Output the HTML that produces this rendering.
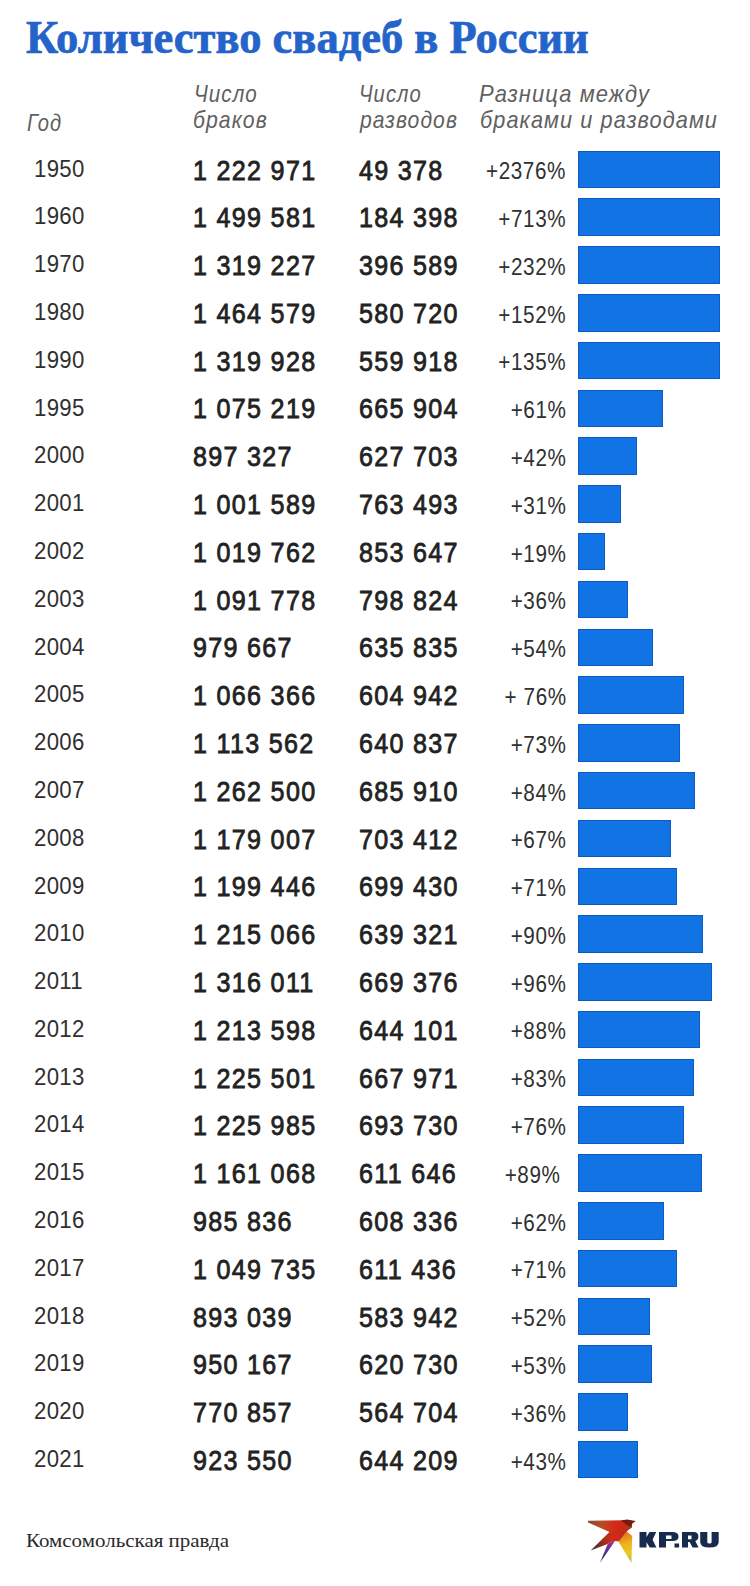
<!DOCTYPE html><html><head><meta charset="utf-8"><style>
*{margin:0;padding:0;box-sizing:border-box}
html,body{width:750px;height:1586px;background:#fff;overflow:hidden}
body{position:relative;font-family:"Liberation Sans",sans-serif;color:#222}
.a{position:absolute;white-space:nowrap;line-height:1;transform-origin:0 0}
.title{font-family:"Liberation Serif",serif;font-weight:bold;font-size:44px;color:#2464ca;-webkit-text-stroke:0.7px #2464ca}
.hd{font-style:italic;color:#606060;font-size:24px;letter-spacing:1.2px}
.yr{color:#303030;font-size:23px;letter-spacing:0.3px;transform:scaleX(0.965)}
.num{font-size:27px;-webkit-text-stroke:0.8px #222;letter-spacing:1.4px;transform:scaleX(0.93)}
.pct{color:#303030;font-size:23.5px;letter-spacing:0.7px;transform-origin:100% 0;transform:scaleX(0.88)}
.bar{position:absolute;background:#1173e4;height:37.5px;box-shadow:inset 0 0 0 1px rgba(8,60,150,.45)}
.foot{font-family:"Liberation Serif",serif;font-size:18px;color:#2a2a2a}
</style></head><body>
<div class="a title" style="left:26px;top:14.6px;transform:scale(1.012,1.045)">Количество свадеб в России</div>
<div class="a hd" style="left:27.46px;top:110.50px;transform:scaleX(0.8385)">Год</div>
<div class="a hd" style="left:194.19px;top:82.20px;transform:scaleX(0.8563)">Число</div>
<div class="a hd" style="left:193.42px;top:108.00px;transform:scaleX(0.8841)">браков</div>
<div class="a hd" style="left:359.42px;top:82.20px;transform:scaleX(0.8423)">Число</div>
<div class="a hd" style="left:360.18px;top:108.00px;transform:scaleX(0.8793)">разводов</div>
<div class="a hd" style="left:479.39px;top:82.40px;transform:scaleX(0.9140)">Разница между</div>
<div class="a hd" style="left:480.10px;top:108.20px;transform:scaleX(0.9042)">браками и разводами</div>
<div class="bar" style="left:578.2px;top:150.6px;width:141.4px"></div>
<div class="a yr" style="left:34.3px;top:157.6px">1950</div>
<div class="a num" style="left:193.2px;top:157.5px">1 222 971</div>
<div class="a num" style="left:358.8px;top:157.5px">49 378</div>
<div class="a pct" style="right:183.5px;top:160.2px">+2376%</div>
<div class="bar" style="left:578.2px;top:198.4px;width:141.4px"></div>
<div class="a yr" style="left:34.3px;top:205.4px">1960</div>
<div class="a num" style="left:193.2px;top:205.3px">1 499 581</div>
<div class="a num" style="left:358.8px;top:205.3px">184 398</div>
<div class="a pct" style="right:183.5px;top:208.0px">+713%</div>
<div class="bar" style="left:578.2px;top:246.2px;width:141.4px"></div>
<div class="a yr" style="left:34.3px;top:253.2px">1970</div>
<div class="a num" style="left:193.2px;top:253.1px">1 319 227</div>
<div class="a num" style="left:358.8px;top:253.1px">396 589</div>
<div class="a pct" style="right:183.5px;top:255.8px">+232%</div>
<div class="bar" style="left:578.2px;top:294.0px;width:141.4px"></div>
<div class="a yr" style="left:34.3px;top:301.0px">1980</div>
<div class="a num" style="left:193.2px;top:300.9px">1 464 579</div>
<div class="a num" style="left:358.8px;top:300.9px">580 720</div>
<div class="a pct" style="right:183.5px;top:303.6px">+152%</div>
<div class="bar" style="left:578.2px;top:341.8px;width:141.4px"></div>
<div class="a yr" style="left:34.3px;top:348.8px">1990</div>
<div class="a num" style="left:193.2px;top:348.7px">1 319 928</div>
<div class="a num" style="left:358.8px;top:348.7px">559 918</div>
<div class="a pct" style="right:183.5px;top:351.4px">+135%</div>
<div class="bar" style="left:578.2px;top:389.5px;width:84.8px"></div>
<div class="a yr" style="left:34.3px;top:396.5px">1995</div>
<div class="a num" style="left:193.2px;top:396.4px">1 075 219</div>
<div class="a num" style="left:358.8px;top:396.4px">665 904</div>
<div class="a pct" style="right:183.5px;top:399.1px">+61%</div>
<div class="bar" style="left:578.2px;top:437.3px;width:58.4px"></div>
<div class="a yr" style="left:34.3px;top:444.3px">2000</div>
<div class="a num" style="left:193.2px;top:444.2px">897 327</div>
<div class="a num" style="left:358.8px;top:444.2px">627 703</div>
<div class="a pct" style="right:183.5px;top:446.9px">+42%</div>
<div class="bar" style="left:578.2px;top:485.1px;width:43.1px"></div>
<div class="a yr" style="left:34.3px;top:492.1px">2001</div>
<div class="a num" style="left:193.2px;top:492.0px">1 001 589</div>
<div class="a num" style="left:358.8px;top:492.0px">763 493</div>
<div class="a pct" style="right:183.5px;top:494.7px">+31%</div>
<div class="bar" style="left:578.2px;top:532.9px;width:26.4px"></div>
<div class="a yr" style="left:34.3px;top:539.9px">2002</div>
<div class="a num" style="left:193.2px;top:539.8px">1 019 762</div>
<div class="a num" style="left:358.8px;top:539.8px">853 647</div>
<div class="a pct" style="right:183.5px;top:542.5px">+19%</div>
<div class="bar" style="left:578.2px;top:580.7px;width:50.0px"></div>
<div class="a yr" style="left:34.3px;top:587.7px">2003</div>
<div class="a num" style="left:193.2px;top:587.6px">1 091 778</div>
<div class="a num" style="left:358.8px;top:587.6px">798 824</div>
<div class="a pct" style="right:183.5px;top:590.3px">+36%</div>
<div class="bar" style="left:578.2px;top:628.5px;width:75.1px"></div>
<div class="a yr" style="left:34.3px;top:635.5px">2004</div>
<div class="a num" style="left:193.2px;top:635.4px">979 667</div>
<div class="a num" style="left:358.8px;top:635.4px">635 835</div>
<div class="a pct" style="right:183.5px;top:638.1px">+54%</div>
<div class="bar" style="left:578.2px;top:676.3px;width:105.6px"></div>
<div class="a yr" style="left:34.3px;top:683.3px">2005</div>
<div class="a num" style="left:193.2px;top:683.2px">1 066 366</div>
<div class="a num" style="left:358.8px;top:683.2px">604 942</div>
<div class="a pct" style="right:183.5px;top:685.9px">+ 76%</div>
<div class="bar" style="left:578.2px;top:724.1px;width:101.5px"></div>
<div class="a yr" style="left:34.3px;top:731.1px">2006</div>
<div class="a num" style="left:193.2px;top:731.0px">1 113 562</div>
<div class="a num" style="left:358.8px;top:731.0px">640 837</div>
<div class="a pct" style="right:183.5px;top:733.7px">+73%</div>
<div class="bar" style="left:578.2px;top:771.9px;width:116.8px"></div>
<div class="a yr" style="left:34.3px;top:778.9px">2007</div>
<div class="a num" style="left:193.2px;top:778.8px">1 262 500</div>
<div class="a num" style="left:358.8px;top:778.8px">685 910</div>
<div class="a pct" style="right:183.5px;top:781.5px">+84%</div>
<div class="bar" style="left:578.2px;top:819.7px;width:93.1px"></div>
<div class="a yr" style="left:34.3px;top:826.7px">2008</div>
<div class="a num" style="left:193.2px;top:826.6px">1 179 007</div>
<div class="a num" style="left:358.8px;top:826.6px">703 412</div>
<div class="a pct" style="right:183.5px;top:829.3px">+67%</div>
<div class="bar" style="left:578.2px;top:867.5px;width:98.7px"></div>
<div class="a yr" style="left:34.3px;top:874.5px">2009</div>
<div class="a num" style="left:193.2px;top:874.4px">1 199 446</div>
<div class="a num" style="left:358.8px;top:874.4px">699 430</div>
<div class="a pct" style="right:183.5px;top:877.1px">+71%</div>
<div class="bar" style="left:578.2px;top:915.2px;width:125.1px"></div>
<div class="a yr" style="left:34.3px;top:922.2px">2010</div>
<div class="a num" style="left:193.2px;top:922.1px">1 215 066</div>
<div class="a num" style="left:358.8px;top:922.1px">639 321</div>
<div class="a pct" style="right:183.5px;top:924.8px">+90%</div>
<div class="bar" style="left:578.2px;top:963.0px;width:133.4px"></div>
<div class="a yr" style="left:34.3px;top:970.0px">2011</div>
<div class="a num" style="left:193.2px;top:969.9px">1 316 011</div>
<div class="a num" style="left:358.8px;top:969.9px">669 376</div>
<div class="a pct" style="right:183.5px;top:972.6px">+96%</div>
<div class="bar" style="left:578.2px;top:1010.8px;width:122.3px"></div>
<div class="a yr" style="left:34.3px;top:1017.8px">2012</div>
<div class="a num" style="left:193.2px;top:1017.7px">1 213 598</div>
<div class="a num" style="left:358.8px;top:1017.7px">644 101</div>
<div class="a pct" style="right:183.5px;top:1020.4px">+88%</div>
<div class="bar" style="left:578.2px;top:1058.6px;width:115.4px"></div>
<div class="a yr" style="left:34.3px;top:1065.6px">2013</div>
<div class="a num" style="left:193.2px;top:1065.5px">1 225 501</div>
<div class="a num" style="left:358.8px;top:1065.5px">667 971</div>
<div class="a pct" style="right:183.5px;top:1068.2px">+83%</div>
<div class="bar" style="left:578.2px;top:1106.4px;width:105.6px"></div>
<div class="a yr" style="left:34.3px;top:1113.4px">2014</div>
<div class="a num" style="left:193.2px;top:1113.3px">1 225 985</div>
<div class="a num" style="left:358.8px;top:1113.3px">693 730</div>
<div class="a pct" style="right:183.5px;top:1116.0px">+76%</div>
<div class="bar" style="left:578.2px;top:1154.2px;width:123.7px"></div>
<div class="a yr" style="left:34.3px;top:1161.2px">2015</div>
<div class="a num" style="left:193.2px;top:1161.1px">1 161 068</div>
<div class="a num" style="left:358.8px;top:1161.1px">611 646</div>
<div class="a pct" style="right:189.4px;top:1163.8px">+89%</div>
<div class="bar" style="left:578.2px;top:1202.0px;width:86.2px"></div>
<div class="a yr" style="left:34.3px;top:1209.0px">2016</div>
<div class="a num" style="left:193.2px;top:1208.9px">985 836</div>
<div class="a num" style="left:358.8px;top:1208.9px">608 336</div>
<div class="a pct" style="right:183.5px;top:1211.6px">+62%</div>
<div class="bar" style="left:578.2px;top:1249.8px;width:98.7px"></div>
<div class="a yr" style="left:34.3px;top:1256.8px">2017</div>
<div class="a num" style="left:193.2px;top:1256.7px">1 049 735</div>
<div class="a num" style="left:358.8px;top:1256.7px">611 436</div>
<div class="a pct" style="right:183.5px;top:1259.4px">+71%</div>
<div class="bar" style="left:578.2px;top:1297.6px;width:72.3px"></div>
<div class="a yr" style="left:34.3px;top:1304.6px">2018</div>
<div class="a num" style="left:193.2px;top:1304.5px">893 039</div>
<div class="a num" style="left:358.8px;top:1304.5px">583 942</div>
<div class="a pct" style="right:183.5px;top:1307.2px">+52%</div>
<div class="bar" style="left:578.2px;top:1345.3px;width:73.7px"></div>
<div class="a yr" style="left:34.3px;top:1352.3px">2019</div>
<div class="a num" style="left:193.2px;top:1352.2px">950 167</div>
<div class="a num" style="left:358.8px;top:1352.2px">620 730</div>
<div class="a pct" style="right:183.5px;top:1354.9px">+53%</div>
<div class="bar" style="left:578.2px;top:1393.1px;width:50.0px"></div>
<div class="a yr" style="left:34.3px;top:1400.1px">2020</div>
<div class="a num" style="left:193.2px;top:1400.0px">770 857</div>
<div class="a num" style="left:358.8px;top:1400.0px">564 704</div>
<div class="a pct" style="right:183.5px;top:1402.7px">+36%</div>
<div class="bar" style="left:578.2px;top:1440.9px;width:59.8px"></div>
<div class="a yr" style="left:34.3px;top:1447.9px">2021</div>
<div class="a num" style="left:193.2px;top:1447.8px">923 550</div>
<div class="a num" style="left:358.8px;top:1447.8px">644 209</div>
<div class="a pct" style="right:183.5px;top:1450.5px">+43%</div>
<div class="a foot" style="left:26.1px;top:1532.1px;transform:scaleX(1.165)">Комсомольская правда</div>
<svg style="position:absolute;left:0;top:0" width="750" height="1586" viewBox="0 0 750 1586">
<defs>
<linearGradient id="gw" x1="588" y1="1521" x2="628" y2="1530" gradientUnits="userSpaceOnUse"><stop offset="0" stop-color="#7a5038"/><stop offset="0.35" stop-color="#bc4a26"/><stop offset="0.7" stop-color="#d42818"/><stop offset="1" stop-color="#b83018"/></linearGradient>
<linearGradient id="gy" x1="621" y1="1534" x2="631" y2="1562" gradientUnits="userSpaceOnUse"><stop offset="0" stop-color="#e4701c"/><stop offset="0.35" stop-color="#eeb01c"/><stop offset="0.7" stop-color="#e6cc20"/><stop offset="1" stop-color="#c8b840"/></linearGradient>
<linearGradient id="gt" x1="607" y1="1538" x2="591" y2="1550" gradientUnits="userSpaceOnUse"><stop offset="0" stop-color="#b83018"/><stop offset="0.45" stop-color="#8a2a1a"/><stop offset="1" stop-color="#203a3a"/></linearGradient>
<linearGradient id="gp" x1="612" y1="1542" x2="600" y2="1562" gradientUnits="userSpaceOnUse"><stop offset="0" stop-color="#9030a0"/><stop offset="0.5" stop-color="#5a2c90"/><stop offset="1" stop-color="#1c2450"/></linearGradient>
</defs>
<polygon fill="url(#gw)" points="588,1520.8 624,1520.3 632,1527.5 627.7,1530.5 619.2,1541.6 615,1541 608,1543.8 603.5,1540.5 609.5,1532 588,1522.4"/>
<polygon fill="#761a10" points="621,1520.5 627,1519.6 635.8,1521 632.3,1523.5 631.6,1527.5 626,1524.5"/>
<polygon fill="url(#gy)" points="618.6,1541.8 626.8,1531.6 632.2,1536 631.4,1563"/>
<polygon fill="url(#gt)" points="609.5,1532 611.8,1535 607.6,1544 590.6,1550.4"/>
<polygon fill="url(#gp)" points="607.8,1543.8 615.2,1540.8 600,1562.8"/>
<g fill="#192b4d">
<path d="M639.5 1532H646.5V1537L649.5 1532H656.2L652.6 1539.7L656.4 1547.5H649.8L646.5 1542.2V1547.5H639.5Z"/>
<path fill-rule="evenodd" d="M659 1532H672.5Q678.5 1532 678.5 1536.5Q678.5 1541 672.5 1541H666V1547.5H659ZM666 1535.5V1539H671.5V1535.5Z"/>
<rect x="674.5" y="1543.5" width="4.6" height="4"/>
<path fill-rule="evenodd" d="M682 1532H693.8Q698.4 1532 698.4 1536.5Q698.4 1540 695.3 1541L698.6 1547.5H692.6L689.6 1542H688V1547.5H682ZM688 1535.4V1539.2H691.5V1535.4Z"/>
<path d="M700.2 1532H707.3V1542.2Q707.3 1543.6 709.5 1543.6Q711.6 1543.6 711.6 1542.2V1532H718.7V1542Q718.7 1547.6 709.5 1547.6Q700.2 1547.6 700.2 1542Z"/>
</g>
</svg>
</body></html>
